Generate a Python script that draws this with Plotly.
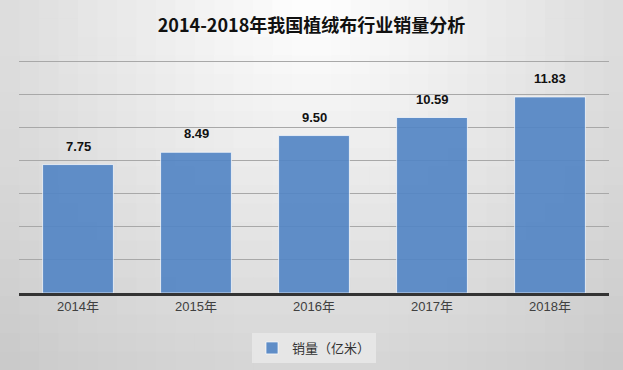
import plotly.graph_objects as go
import math

categories = ["2014年", "2015年", "2016年", "2017年", "2018年"]
sales = [7.75, 8.49, 9.50, 10.59, 11.83]
labels = ["7.75", "8.49", "9.50", "10.59", "11.83"]
series_name = "销量（亿米）"
title_text = "2014-2018年我国植绒布行业销量分析"

W, H = 623, 370
L, R, T, B = 19, 14, 58, 77
pw, ph = W - L - R, H - T - B
ymax = ph / (232 / 14.0)

fig = go.Figure()
fig.add_trace(go.Bar(
    x=categories, y=sales, name=series_name,
    marker=dict(color="rgba(84,134,196,0.92)", line=dict(color="rgba(255,255,255,0.7)", width=1)),
    width=0.6,
))

for c, v, t in zip(categories, sales, labels):
    fig.add_annotation(x=c, y=v, text="<b>" + t + "</b>", showarrow=False,
                       yanchor="bottom", yshift=9,
                       font=dict(family="Liberation Sans, Noto Sans CJK SC", size=13, color="#111111"))

# radial gradient background via cells
shapes = []
nx, ny = 32, 20
for i in range(nx):
    for j in range(ny):
        px0 = W * i / nx
        px1 = W * (i + 1) / nx
        py0 = H * j / ny
        py1 = H * (j + 1) / ny
        cx = (px0 + px1) / 2
        cy = (py0 + py1) / 2
        d = math.hypot(cx - W / 2, cy)
        c = int(round(max(195, 255 - 0.113 * d)))
        shapes.append(dict(
            type="rect", xref="paper", yref="paper", layer="below",
            x0=(px0 - L) / pw, x1=(px1 - L) / pw + 0.002,
            y0=(H - py1 - B) / ph - 0.002, y1=(H - py0 - B) / ph,
            fillcolor=f"rgb({c},{c},{c})", line=dict(width=0),
        ))

fig.update_layout(
    width=W, height=H,
    margin=dict(l=L, r=R, t=T, b=B, autoexpand=False),
    paper_bgcolor="#dcdcdc",
    plot_bgcolor="rgba(0,0,0,0)",
    shapes=shapes,
    title=dict(text="<b>" + title_text + "</b>", x=0.5, xanchor="center", y=0.93, yanchor="middle",
               font=dict(family="Noto Sans CJK SC", size=18, color="#111111")),
    showlegend=True,
    legend=dict(orientation="h", x=0.5, xanchor="center", y=-40 / ph, yanchor="top",
                bgcolor="rgba(240,240,240,0.6)",
                font=dict(family="Noto Sans CJK SC", size=13, color="#333333"),
                itemwidth=30),
    bargap=0.4,
    font=dict(family="Noto Sans CJK SC"),
)
fig.update_xaxes(showline=True, linecolor="#333333", linewidth=2.5,
                 tickfont=dict(family="Liberation Sans, Noto Sans CJK SC", size=13, color="#404040"),
                 ticks="", showgrid=False)
fig.update_yaxes(range=[0, ymax], tickvals=[2, 4, 6, 8, 10, 12, 14], showticklabels=False, showgrid=True,
                 gridcolor="#a8a8a8", gridwidth=1, zeroline=False, showline=False)

fig.write_html("out.html", config={"displayModeBar": False},
               post_script="document.body.style.margin='0';document.body.style.padding='0';")
